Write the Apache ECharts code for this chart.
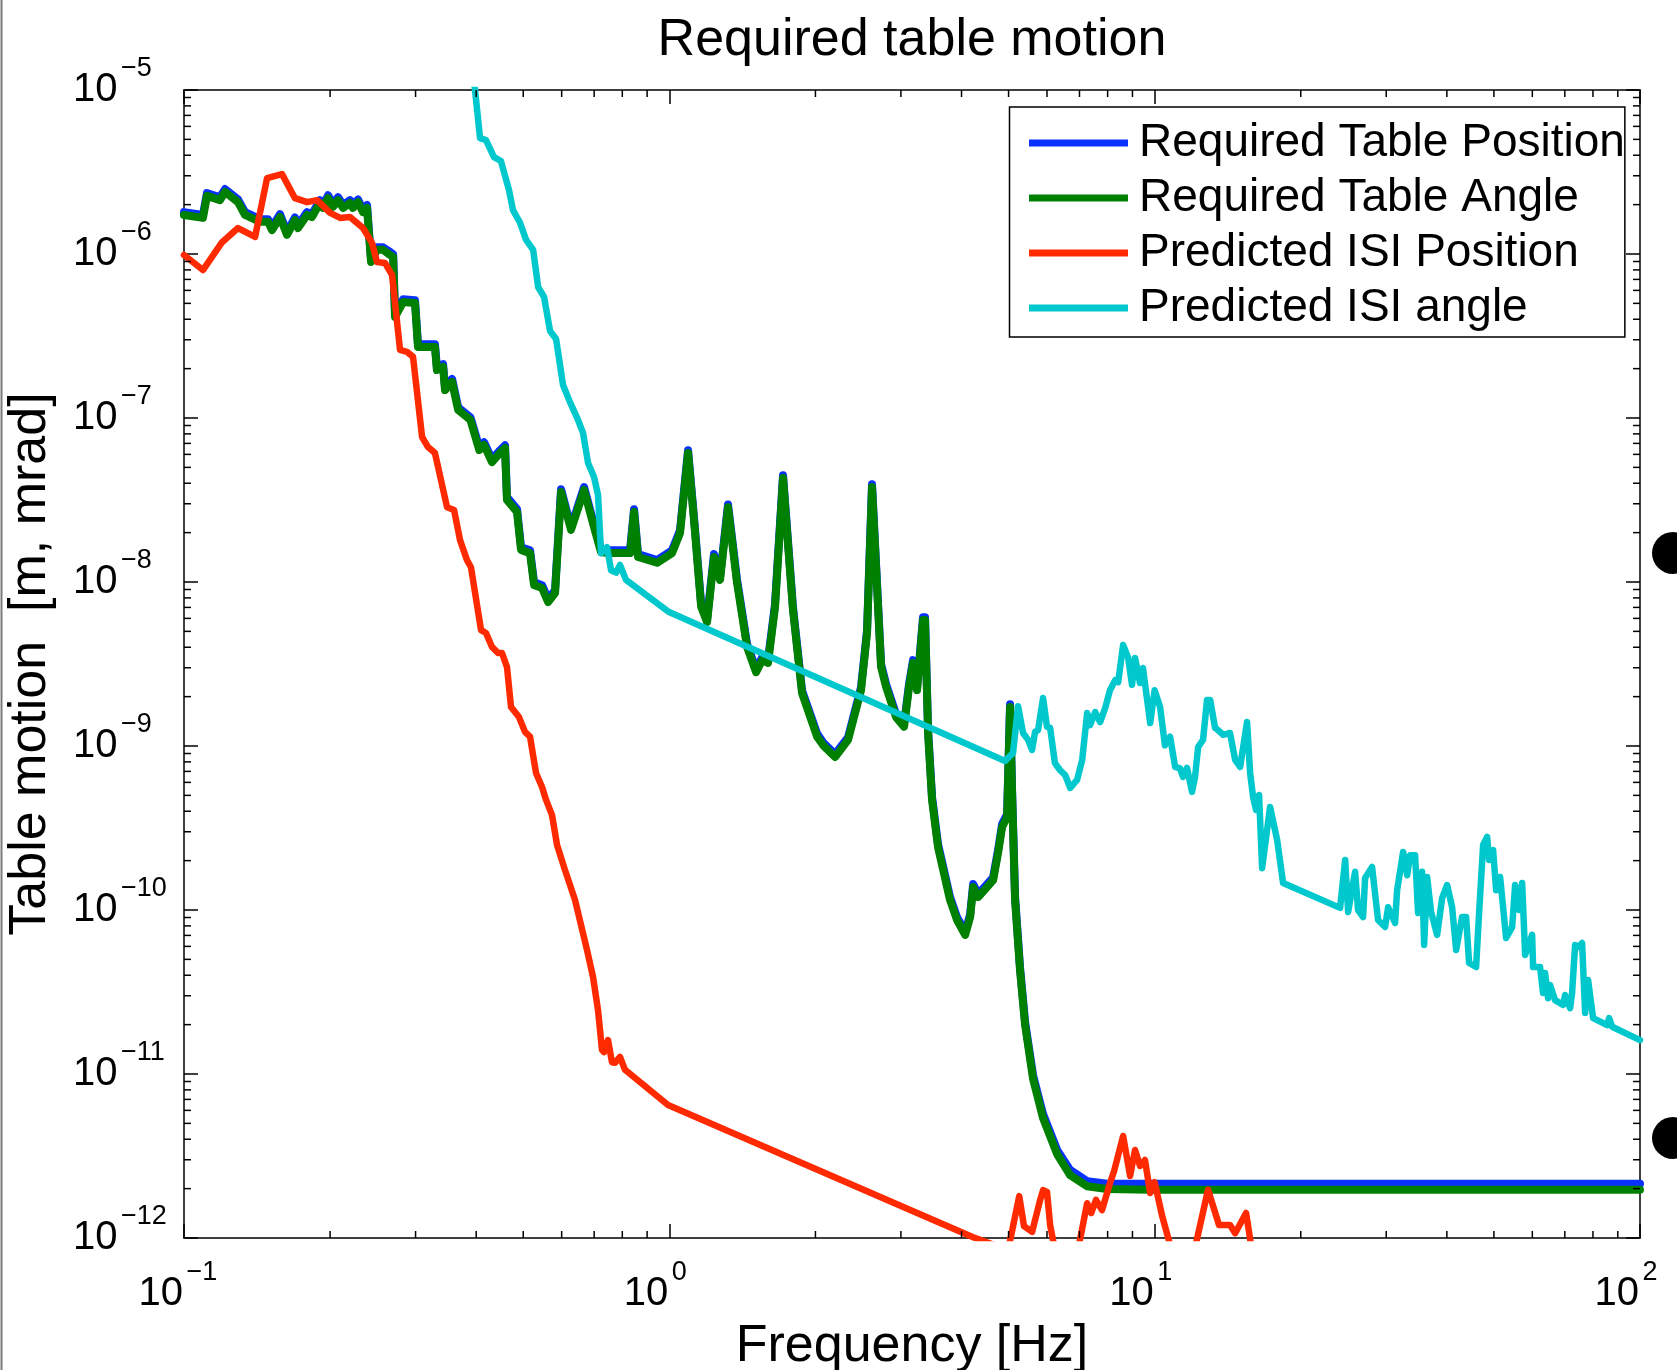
<!DOCTYPE html>
<html>
<head>
<meta charset="utf-8">
<title>Required table motion</title>
<script src="https://cdn.jsdelivr.net/npm/echarts@6/dist/echarts.min.js"></script>
<style>
  html, body { margin: 0; padding: 0; background: #fff; }
  #chart { width: 1677px; height: 1370px; }
</style>
</head>
<body>
<div id="chart"></div>
<script>
const FONT = '"Liberation Sans", Arial, Helvetica, sans-serif';

// Frequency grid shared by the two "required" curves [Hz]
const freqRequired = [
  0.1, 0.1094, 0.1115, 0.1186, 0.1215, 0.1292, 0.1336, 0.1434, 0.1490, 0.1518,
  0.1577, 0.1630, 0.1693, 0.1718, 0.1793, 0.1835, 0.1906, 0.1934, 0.1981, 0.2028,
  0.2077, 0.2127, 0.2198, 0.2229, 0.2283, 0.2338, 0.2383, 0.2429, 0.2498, 0.2571,
  0.2658, 0.2697, 0.2722, 0.2827, 0.2992, 0.3035, 0.3289, 0.3320, 0.3418, 0.3450,
  0.3567, 0.3672, 0.3893, 0.4059, 0.4152, 0.4311, 0.4478, 0.4586, 0.4629, 0.4855,
  0.4948, 0.5164, 0.5263, 0.5467, 0.5626, 0.5815, 0.5983, 0.6272, 0.6673, 0.6996,
  0.7233, 0.7585, 0.8299, 0.8459, 0.8621, 0.9434, 1.013, 1.052, 1.093, 1.130,
  1.163, 1.196, 1.236, 1.272, 1.321, 1.379, 1.446, 1.509, 1.553, 1.597,
  1.651, 1.715, 1.798, 1.877, 2.016, 2.075, 2.195, 2.335, 2.483, 2.555,
  2.616, 2.731, 2.797, 2.932, 3.045, 3.118, 3.178, 3.239, 3.332, 3.364,
  3.413, 3.478, 3.578, 3.788, 3.916, 4.069, 4.167, 4.227, 4.328, 4.515,
  4.646, 4.757, 4.849, 4.965, 5.036, 5.084, 5.157, 5.281, 5.408, 5.617,
  5.888, 6.295, 6.694, 7.256, 7.98, 9.79, 100
];

// Required table position [m]
const tablePosition = [
  1.80e-6, 1.73e-6, 2.35e-6, 2.22e-6, 2.49e-6, 2.15e-6, 1.80e-6, 1.63e-6, 1.63e-6, 1.46e-6,
  1.75e-6, 1.36e-6, 1.67e-6, 1.50e-6, 1.80e-6, 1.75e-6, 2.13e-6, 1.99e-6, 2.28e-6, 2.02e-6,
  2.22e-6, 1.99e-6, 2.13e-6, 1.99e-6, 2.15e-6, 1.87e-6, 1.99e-6, 9.29e-7, 1.10e-6, 1.10e-6,
  1.03e-6, 9.97e-7, 4.30e-7, 5.29e-7, 5.22e-7, 2.82e-7, 2.82e-7, 2.04e-7, 2.13e-7, 1.54e-7,
  1.73e-7, 1.16e-7, 1.01e-7, 6.64e-8, 7.11e-8, 5.61e-8, 6.36e-8, 6.82e-8, 3.29e-8, 2.78e-8,
  1.63e-8, 1.56e-8, 9.97e-9, 9.56e-9, 7.85e-9, 8.91e-9, 3.68e-8, 2.16e-8, 3.79e-8, 2.25e-8,
  1.58e-8, 1.56e-8, 1.56e-8, 2.78e-8, 1.48e-8, 1.36e-8, 1.56e-8, 2.07e-8, 6.36e-8, 2.07e-8,
  7.33e-9, 5.93e-9, 1.48e-8, 1.07e-8, 2.97e-8, 1.03e-8, 4.18e-9, 2.93e-9, 3.47e-9, 3.34e-9,
  7.33e-9, 4.48e-8, 7.02e-9, 2.18e-9, 1.19e-9, 1.05e-9, 8.91e-10, 1.13e-9, 2.28e-9, 5.09e-9,
  3.94e-8, 3.15e-9, 2.38e-9, 1.56e-9, 1.36e-9, 2.38e-9, 3.34e-9, 2.28e-9, 6.09e-9, 6.09e-9,
  1.25e-9, 4.88e-10, 2.52e-10, 1.20e-10, 9.04e-11, 7.33e-11, 9.42e-11, 1.44e-10, 1.25e-10, 1.44e-10,
  1.58e-10, 2.32e-10, 3.34e-10, 3.84e-10, 1.80e-9, 5.37e-10, 1.20e-10, 4.42e-11, 2.07e-11, 9.80e-12,
  5.70e-12, 3.45e-12, 2.60e-12, 2.22e-12, 2.14e-12, 2.14e-12, 2.14e-12
];

// Required table angle [mrad]
const tableAngle = [
  1.73e-6, 1.66e-6, 2.26e-6, 2.13e-6, 2.39e-6, 2.07e-6, 1.73e-6, 1.57e-6, 1.57e-6, 1.40e-6,
  1.68e-6, 1.31e-6, 1.61e-6, 1.44e-6, 1.73e-6, 1.68e-6, 2.05e-6, 1.91e-6, 2.19e-6, 1.94e-6,
  2.13e-6, 1.91e-6, 2.05e-6, 1.91e-6, 2.07e-6, 1.80e-6, 1.91e-6, 8.93e-7, 1.06e-6, 1.06e-6,
  9.86e-7, 9.59e-7, 4.13e-7, 5.09e-7, 5.02e-7, 2.71e-7, 2.71e-7, 1.96e-7, 2.05e-7, 1.48e-7,
  1.66e-7, 1.12e-7, 9.72e-8, 6.38e-8, 6.84e-8, 5.39e-8, 6.12e-8, 6.56e-8, 3.16e-8, 2.67e-8,
  1.57e-8, 1.50e-8, 9.59e-9, 9.19e-9, 7.55e-9, 8.57e-9, 3.54e-8, 2.08e-8, 3.64e-8, 2.16e-8,
  1.52e-8, 1.50e-8, 1.50e-8, 2.67e-8, 1.42e-8, 1.31e-8, 1.50e-8, 1.99e-8, 6.12e-8, 1.99e-8,
  7.05e-9, 5.70e-9, 1.42e-8, 1.03e-8, 2.86e-8, 9.86e-9, 4.02e-9, 2.82e-9, 3.34e-9, 3.21e-9,
  7.05e-9, 4.31e-8, 6.75e-9, 2.10e-9, 1.14e-9, 1.01e-9, 8.57e-10, 1.09e-9, 2.19e-9, 4.89e-9,
  3.79e-8, 3.03e-9, 2.29e-9, 1.50e-9, 1.31e-9, 2.29e-9, 3.21e-9, 2.19e-9, 5.86e-9, 5.86e-9,
  1.20e-9, 4.69e-10, 2.42e-10, 1.15e-10, 8.69e-11, 7.05e-11, 9.06e-11, 1.38e-10, 1.20e-10, 1.38e-10,
  1.52e-10, 2.23e-10, 3.21e-10, 3.69e-10, 1.73e-9, 5.16e-10, 1.15e-10, 4.25e-11, 1.99e-11, 9.33e-12,
  5.39e-12, 3.25e-12, 2.42e-12, 2.07e-12, 1.99e-12, 1.97e-12, 1.97e-12
];

// Predicted ISI position
const freqIsiPosition = [
  0.1, 0.1094, 0.1198, 0.1292, 0.1401, 0.1483, 0.1592, 0.1693, 0.1793, 0.1880,
  0.2000, 0.2097, 0.2198, 0.2338, 0.2440, 0.2498, 0.2596, 0.2683, 0.2787, 0.2880,
  0.2964, 0.3094, 0.3183, 0.3289, 0.3483, 0.3601, 0.3705, 0.3829, 0.3902, 0.4093,
  0.4191, 0.4311, 0.4436, 0.4521, 0.4629, 0.4719, 0.4900, 0.5041, 0.5164, 0.5313,
  0.5467, 0.5572, 0.5732, 0.5870, 0.6096, 0.6393, 0.6767, 0.6963, 0.7130, 0.7266,
  0.7337, 0.7476, 0.7618, 0.7728, 0.7913, 0.8103, 0.9939, 4.227, 4.99, 5.26,
  5.38, 5.59, 5.81, 5.89, 6.00, 6.09, 6.23, 6.95, 7.26, 7.40,
  7.57, 7.79, 8.09, 8.25, 8.61, 8.90, 9.11, 9.33, 9.55, 9.79,
  10.0, 10.35, 10.86, 12.06, 12.88, 13.57, 14.30, 14.65, 15.43, 15.88
];
const isiPosition = [
  9.86e-7, 7.98e-7, 1.18e-6, 1.44e-6, 1.27e-6, 2.90e-6, 3.07e-6, 2.19e-6, 2.07e-6, 2.13e-6,
  1.78e-6, 1.66e-6, 1.68e-6, 1.44e-6, 1.17e-6, 8.93e-7, 8.81e-7, 7.45e-7, 2.60e-7, 2.53e-7,
  2.36e-7, 7.66e-8, 6.65e-8, 6.12e-8, 2.86e-8, 2.75e-8, 1.80e-8, 1.36e-8, 1.23e-8, 5.09e-9,
  4.89e-9, 4.02e-9, 3.69e-9, 3.69e-9, 3.03e-9, 1.73e-9, 1.50e-9, 1.22e-9, 1.14e-9, 6.84e-10,
  5.62e-10, 4.69e-10, 3.79e-10, 2.49e-10, 1.75e-10, 1.15e-10, 5.70e-11, 3.90e-11, 2.45e-11, 1.40e-11,
  1.36e-11, 1.61e-11, 1.18e-11, 1.17e-11, 1.27e-11, 1.06e-11, 6.47e-12, 1.01e-12, 8.45e-13, 1.80e-12,
  1.18e-12, 1.09e-12, 1.71e-12, 1.96e-12, 1.91e-12, 1.20e-12, 8.45e-13, 8.45e-13, 1.63e-12, 1.42e-12,
  1.71e-12, 1.48e-12, 2.16e-12, 2.56e-12, 4.19e-12, 2.39e-12, 3.44e-12, 2.75e-12, 2.99e-12, 1.88e-12,
  2.19e-12, 1.38e-12, 8.22e-13, 8.22e-13, 1.97e-12, 1.20e-12, 1.20e-12, 1.07e-12, 1.42e-12, 8.22e-13
];

// Predicted ISI angle
const freqIsiAngle = [
  0.390, 0.4074, 0.4191, 0.4352, 0.4498, 0.4674, 0.4763, 0.4925, 0.5069, 0.5241,
  0.5366, 0.5519, 0.5679, 0.5843, 0.6039, 0.6241, 0.6450, 0.6641, 0.6801, 0.6996,
  0.7130, 0.7233, 0.7440, 0.7585, 0.7768, 0.7913, 0.8142, 0.9986, 4.918, 5.107,
  5.230, 5.356, 5.485, 5.590, 5.670, 5.751, 5.89, 6.00, 6.09, 6.23,
  6.38, 6.54, 6.70, 6.92, 7.09, 7.26, 7.36, 7.54, 7.72, 7.91,
  8.09, 8.29, 8.41, 8.61, 8.82, 8.98, 9.11, 9.33, 9.46, 9.79,
  10.0, 10.26, 10.50, 10.76, 11.02, 11.28, 11.44, 11.66, 11.94, 12.11,
  12.29, 12.58, 12.82, 13.01, 13.32, 13.51, 13.84, 14.30, 14.65, 15.00,
  15.50, 15.73, 15.95, 16.18, 16.41, 16.65, 17.29, 17.88, 18.39, 24.10,
  24.69, 25.04, 25.88, 26.25, 26.88, 27.14, 28.05, 28.86, 29.84, 30.27,
  31.28, 31.59, 32.50, 33.13, 33.60, 34.40, 34.90, 35.56, 35.91, 36.42,
  37.12, 38.19, 39.11, 40.05, 41.01, 41.80, 42.99, 43.82, 44.45, 45.95,
  46.61, 47.51, 48.42, 48.88, 49.81, 50.53, 51.50, 52.98, 54.52, 55.30,
  56.36, 57.17, 57.99, 59.94, 60.22, 62.24, 63.13, 63.74, 64.65, 65.27,
  66.84, 69.43, 70.09, 71.78, 72.46, 73.50, 74.56, 75.98, 77.08, 78.18,
  80.06, 85.55, 86.37, 87.6, 100
];
const isiAngle = [
  1.75e-5, 5.09e-6, 4.95e-6, 3.90e-6, 3.69e-6, 2.45e-6, 1.85e-6, 1.55e-6, 1.22e-6, 1.06e-6,
  6.29e-7, 5.47e-7, 3.39e-7, 3.03e-7, 1.59e-7, 1.25e-7, 1.01e-7, 8.11e-8, 5.32e-8, 4.37e-8,
  3.39e-8, 1.50e-8, 1.63e-8, 1.18e-8, 1.14e-8, 1.27e-8, 1.03e-8, 6.56e-9, 8.11e-10, 9.06e-10,
  1.75e-9, 1.20e-9, 1.09e-9, 9.46e-10, 1.22e-9, 1.25e-9, 1.96e-9, 1.31e-9, 1.29e-9, 7.87e-10,
  7.14e-10, 6.65e-10, 5.55e-10, 6.21e-10, 8.22e-10, 1.59e-9, 1.34e-9, 1.61e-9, 1.40e-9, 1.71e-9,
  2.19e-9, 2.52e-9, 2.45e-9, 4.13e-9, 3.44e-9, 2.36e-9, 3.44e-9, 2.42e-9, 2.99e-9, 1.38e-9,
  2.19e-9, 1.73e-9, 1.01e-9, 1.14e-9, 7.45e-10, 7.30e-10, 6.47e-10, 7.35e-10, 5.25e-10, 6.47e-10,
  9.86e-10, 1.09e-9, 1.91e-9, 1.91e-9, 1.29e-9, 1.25e-9, 1.17e-9, 1.20e-9, 8.22e-10, 7.45e-10,
  1.40e-9, 6.84e-10, 4.89e-10, 4.07e-10, 5.03e-10, 1.80e-10, 4.25e-10, 2.67e-10, 1.46e-10, 1.03e-10,
  2.02e-10, 9.72e-11, 1.71e-10, 1.00e-10, 9.06e-11, 1.57e-10, 1.83e-10, 8.69e-11, 7.87e-11, 1.04e-10,
  8.34e-11, 1.32e-10, 2.26e-10, 1.63e-10, 2.16e-10, 2.16e-10, 9.59e-11, 1.71e-10, 6.12e-11, 1.59e-10,
  9.72e-11, 7.05e-11, 1.18e-10, 1.42e-10, 1.04e-10, 5.70e-11, 9.06e-11, 9.06e-11, 4.75e-11, 4.49e-11,
  9.59e-11, 2.49e-10, 2.79e-10, 2.02e-10, 2.32e-10, 1.32e-10, 1.59e-10, 6.75e-11, 7.87e-11, 1.42e-10,
  1.00e-10, 1.46e-10, 5.32e-11, 7.05e-11, 4.49e-11, 4.49e-11, 3.12e-11, 4.13e-11, 2.90e-11, 3.49e-11,
  2.82e-11, 2.64e-11, 3.03e-11, 2.52e-11, 3.12e-11, 6.12e-11, 5.95e-11, 6.29e-11, 2.36e-11, 3.74e-11,
  2.19e-11, 1.99e-11, 2.19e-11, 1.94e-11, 1.61e-11
];

const seriesNames = [
  'Required Table Position',
  'Required Table Angle',
  'Predicted ISI Position',
  'Predicted ISI angle'
];
const seriesColors = ['#0a32ff', '#008000', '#ff2a00', '#00c8cc'];

// Decade tick labels: 10 raised to these exponents
const xTickExponents = ['\u22121', '0', '1', '2'];                 // 1e-1 .. 1e2
const yTickExponents = ['\u221212', '\u221211', '\u221210', '\u22129',
                        '\u22128', '\u22127', '\u22126', '\u22125']; // 1e-12 .. 1e-5

const X_MIN = 0.1, X_MAX = 100, Y_MIN = 1e-12, Y_MAX = 1e-5;
const MINOR_LEN = 7;

function pairs(xs, ys) { return xs.map((x, i) => [x, ys[i]]); }

function powerLabel(exps, firstExp) {
  return function (v) {
    const e = Math.round(Math.log10(v));
    return '{b|10}{s|' + exps[e - firstExp] + '}';
  };
}

// "10" base plus raised exponent; both tokens laid out from the left of the label box
const tickRich = {
  b: { fontFamily: FONT, fontSize: 40, color: '#000', width: 45, align: 'left',
       lineHeight: 44, verticalAlign: 'middle' },
  s: { fontFamily: FONT, fontSize: 27, color: '#000', width: 43, align: 'left',
       lineHeight: 27, padding: [0, 0, 42, 3], verticalAlign: 'middle' }
};

// Minor log ticks (2..9 within each decade), drawn on all four sides of the box
const xMinor = [];
for (let d = -1; d < 2; d++) for (let k = 2; k < 10; k++) xMinor.push([k * Math.pow(10, d), Y_MIN]);
const yMinor = [];
for (let d = -12; d < -5; d++) for (let k = 2; k < 10; k++) yMinor.push([X_MIN, k * Math.pow(10, d)]);

function minorTicks(dir) {
  return function (params, api) {
    const cs = params.coordSys;
    const p = api.coord([api.value(0), api.value(1)]);
    const st = { stroke: '#000', lineWidth: 1.5 };
    if (dir === 'x') {
      const b = cs.y + cs.height, t = cs.y;
      return { type: 'group', children: [
        { type: 'line', shape: { x1: p[0], y1: b, x2: p[0], y2: b - MINOR_LEN }, style: st },
        { type: 'line', shape: { x1: p[0], y1: t, x2: p[0], y2: t + MINOR_LEN }, style: st }
      ]};
    }
    const l = cs.x, r = cs.x + cs.width;
    return { type: 'group', children: [
      { type: 'line', shape: { x1: l, y1: p[1], x2: l + MINOR_LEN, y2: p[1] }, style: st },
      { type: 'line', shape: { x1: r, y1: p[1], x2: r - MINOR_LEN, y2: p[1] }, style: st }
    ]};
  };
}

const axisBase = {
  type: 'log',
  logBase: 10,
  nameMoveOverlap: false,
  axisLine: { show: true, onZero: false, lineStyle: { color: '#000', width: 1.5 } },
  axisTick: { show: true, inside: true, length: 14, lineStyle: { color: '#000', width: 1.5 } },
  splitLine: { show: false },
  minorTick: { show: false },
  minorSplitLine: { show: false }
};

function lineSeries(idx, xs, ys, width) {
  return {
    name: seriesNames[idx],
    type: 'line',
    data: pairs(xs, ys),
    symbol: 'none',
    showSymbol: false,
    clip: true,
    silent: true,
    z: 2 + idx * 0.1,
    lineStyle: { color: seriesColors[idx], width: width, cap: 'round', join: 'round' },
    itemStyle: { color: seriesColors[idx] },
    emphasis: { disabled: true }
  };
}

const chart = echarts.init(document.getElementById('chart'), null, { renderer: 'canvas' });

chart.setOption({
  animation: false,
  backgroundColor: '#fff',
  title: {
    text: 'Required table motion',
    left: 912,
    top: 15,
    padding: 0,
    textAlign: 'center',
    textStyle: { fontFamily: FONT, fontSize: 52, fontWeight: 'normal', color: '#000' }
  },
  legend: {
    data: seriesNames,
    orient: 'vertical',
    left: 1009.5,
    top: 107,
    padding: [13, 0, 6, 19.5],
    itemGap: 9,
    itemWidth: 99,
    itemHeight: 7,
    icon: 'rect',
    backgroundColor: '#fff',
    borderColor: '#000',
    borderWidth: 1.5,
    borderRadius: 0,
    selectedMode: false,
    textStyle: { fontFamily: FONT, fontSize: 46, color: '#000', lineHeight: 44, padding: [0, 0, 0, 6] }
  },
  grid: { left: 184, top: 90, width: 1456, height: 1148, containLabel: false, outerBoundsMode: 'none' },
  xAxis: [
    Object.assign({}, axisBase, {
      min: X_MIN, max: X_MAX, splitNumber: 3, position: 'bottom',
      name: 'Frequency [Hz]', nameLocation: 'middle', nameGap: 83,
      nameTextStyle: { fontFamily: FONT, fontSize: 52, color: '#000' },
      axisLabel: { margin: 34, formatter: powerLabel(xTickExponents, -1), rich: tickRich }
    }),
    Object.assign({}, axisBase, {
      min: X_MIN, max: X_MAX, splitNumber: 3, position: 'top',
      axisLabel: { show: false }
    })
  ],
  yAxis: [
    Object.assign({}, axisBase, {
      min: Y_MIN, max: Y_MAX, splitNumber: 7, position: 'left',
      name: 'Table motion  [m, mrad]', nameLocation: 'middle', nameGap: 127, nameRotate: 90,
      nameTextStyle: { fontFamily: FONT, fontSize: 52, color: '#000' },
      axisLabel: { margin: 111, align: 'left', formatter: powerLabel(yTickExponents, -12), rich: tickRich }
    }),
    Object.assign({}, axisBase, {
      min: Y_MIN, max: Y_MAX, splitNumber: 7, position: 'right',
      axisLabel: { show: false }
    })
  ],
  series: [
    lineSeries(0, freqRequired, tablePosition, 8),
    lineSeries(1, freqRequired, tableAngle, 8),
    lineSeries(2, freqIsiPosition, isiPosition, 6.5),
    lineSeries(3, freqIsiAngle, isiAngle, 6.5),
    {
      type: 'custom', silent: true, clip: false, z: 5,
      data: xMinor, encode: { x: 0, y: 1 }, renderItem: minorTicks('x')
    },
    {
      type: 'custom', silent: true, clip: false, z: 5,
      data: yMinor, encode: { x: 0, y: 1 }, renderItem: minorTicks('y')
    }
  ],
  graphic: [
    { type: 'line', silent: true, shape: { x1: 1.5, y1: 0, x2: 1.5, y2: 1370 },
      style: { stroke: '#7a7a7a', lineWidth: 2 } },
    { type: 'circle', silent: true, shape: { cx: 1673, cy: 553, r: 21 }, style: { fill: '#000' } },
    { type: 'circle', silent: true, shape: { cx: 1673, cy: 1138, r: 21 }, style: { fill: '#000' } }
  ]
});
</script>
</body>
</html>
